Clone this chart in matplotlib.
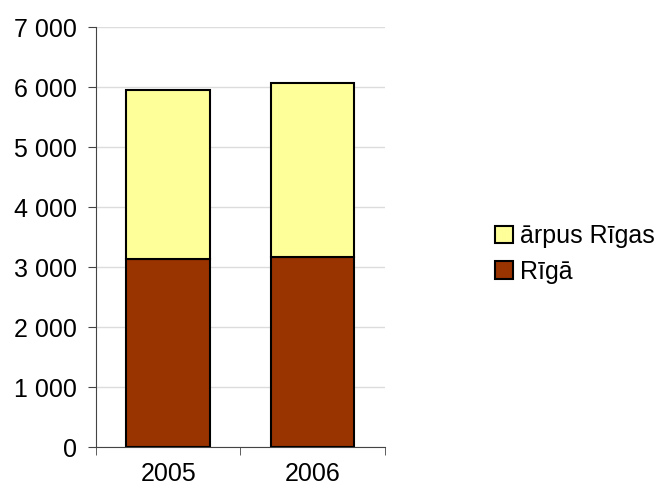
import matplotlib
matplotlib.use("Agg")
import matplotlib.pyplot as plt
from matplotlib.ticker import FuncFormatter, FixedLocator

# Dati
years = ["2005", "2006"]
riga = [3130, 3160]
arpus_rigas = [2820, 2900]

plt.rcParams['font.family'] = ['Liberation Sans', 'DejaVu Sans']

fig = plt.figure(figsize=(6.61, 4.94), dpi=100)
ax = fig.add_axes([0.1452, 0.0951, 0.4368, 0.8502])

x = range(len(years))
b1 = ax.bar(x, riga, width=0.58, color="#993300", edgecolor="black", linewidth=1.5, zorder=3, label="Rīgā")
b2 = ax.bar(x, arpus_rigas, width=0.58, bottom=riga, color="#FFFF99", edgecolor="black", linewidth=1.5, zorder=3, label="ārpus Rīgas")

ax.set_xlim(-0.5, 1.5)
ax.set_ylim(0, 7000)
ax.set_yticks(range(0, 7001, 1000))
ax.yaxis.set_major_formatter(FuncFormatter(lambda v, p: f"{int(v):,}".replace(",", " ")))
ax.set_xticks(list(x))
ax.set_xticklabels(years)
ax.xaxis.set_minor_locator(FixedLocator([-0.5, 0.5, 1.5]))
ax.tick_params(axis='x', which='major', length=0, labelsize=18, pad=11)
ax.tick_params(axis='x', which='minor', length=6, color="#444444")
ax.tick_params(axis='y', length=6, labelsize=18, color="#444444", pad=8)

ax.grid(axis='y', color="#dcdcdc", linewidth=1, zorder=0)
for s in ["top", "right"]:
    ax.spines[s].set_visible(False)
for s in ["left", "bottom"]:
    ax.spines[s].set_color("#444444")

fig.legend([b2, b1], ["ārpus Rīgas", "Rīgā"], loc="center left", bbox_to_anchor=(0.715, 0.486),
           frameon=False, fontsize=18, handlelength=0.7, handleheight=0.7, handletextpad=0.3,
           labelspacing=0.45)

fig.savefig("out.png", dpi=100)
